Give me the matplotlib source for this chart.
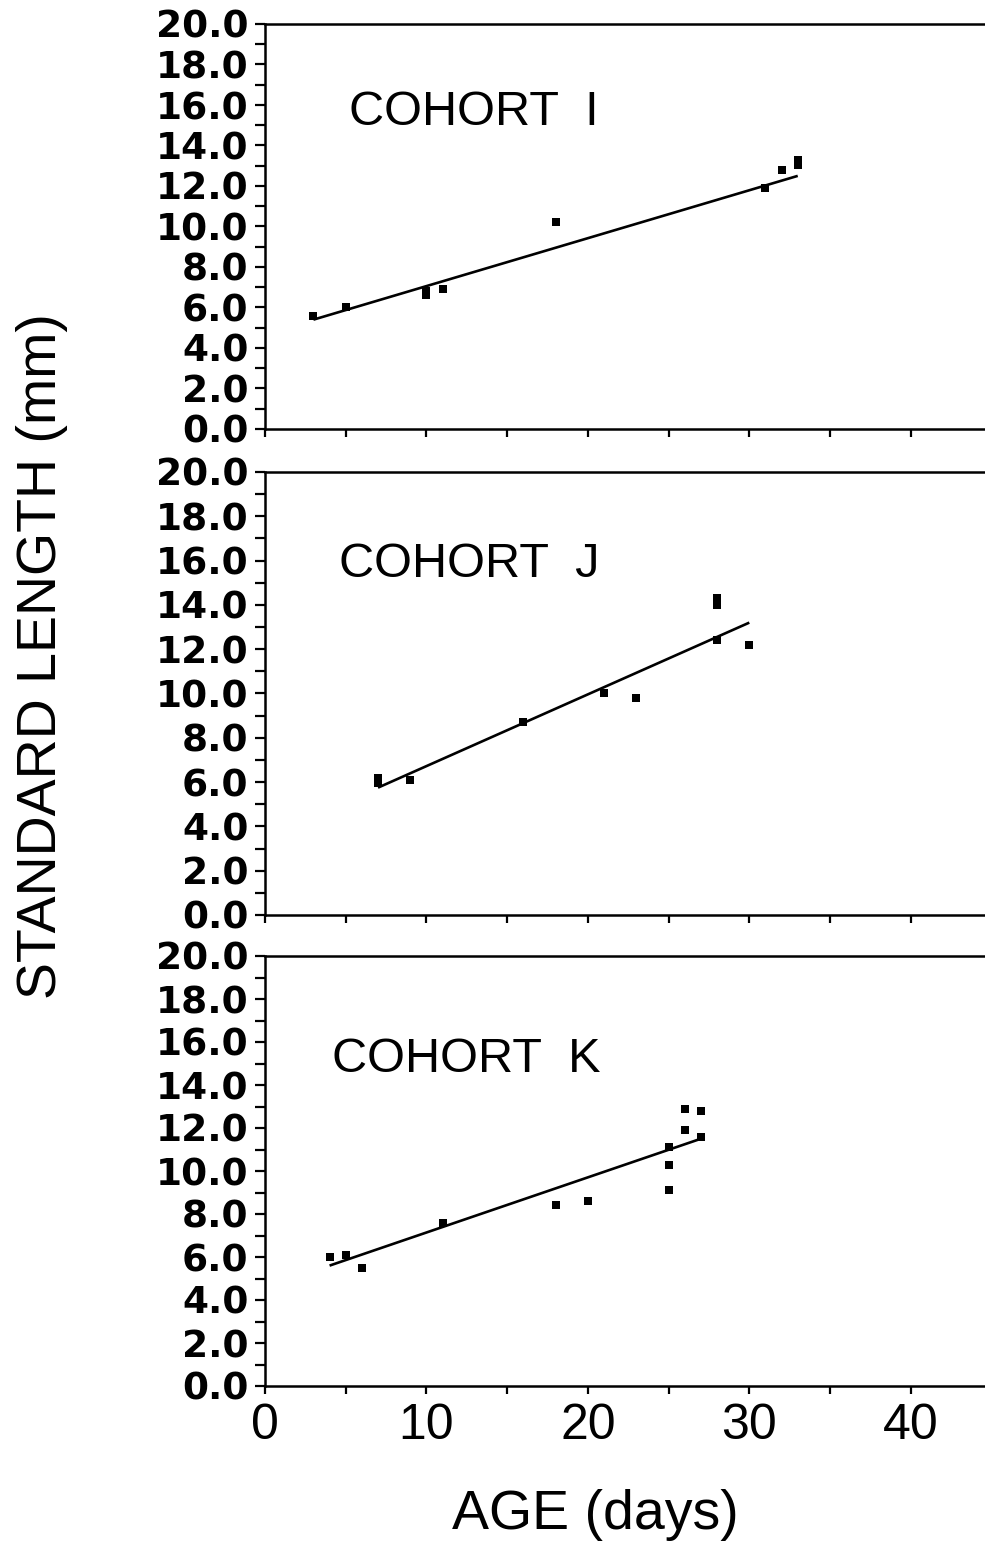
import matplotlib.pyplot as plt
from matplotlib.ticker import MultipleLocator

# growth of three cohorts, standard length vs age
cohort_names = ["COHORT  I", "COHORT  J", "COHORT  K"]

age_i = [3, 5, 10, 10, 11, 18, 31, 32, 33, 33]
len_i = [5.6, 6.0, 6.6, 6.8, 6.9, 10.2, 11.9, 12.8, 13.05, 13.3]
fit_age_i = [3, 33]
fit_len_i = [5.4, 12.5]

age_j = [7, 7, 9, 16, 21, 23, 28, 28, 28, 30]
len_j = [5.95, 6.2, 6.1, 8.7, 10.0, 9.8, 14.0, 14.3, 12.4, 12.2]
fit_age_j = [7, 30]
fit_len_j = [5.75, 13.2]

age_k = [4, 5, 6, 11, 18, 20, 25, 25, 25, 26, 26, 27, 27]
len_k = [6.0, 6.1, 5.5, 7.6, 8.4, 8.6, 9.1, 10.3, 11.1, 12.9, 11.9, 12.8, 11.6]
fit_age_k = [4, 27]
fit_len_k = [5.6, 11.5]

y_ticks = [0, 2, 4, 6, 8, 10, 12, 14, 16, 18, 20]
x_ticks = [0, 10, 20, 30, 40]

W, H = 985, 1545
fig = plt.figure(figsize=(W / 100, H / 100), dpi=100)

# panel boxes in pixels: (top, bottom), and where the label sits in data units
panels = [
    (24, 429, age_i, len_i, fit_age_i, fit_len_i, (5.2, 15.0)),
    (472, 915, age_j, len_j, fit_age_j, fit_len_j, (4.6, 15.25)),
    (956, 1386, age_k, len_k, fit_age_k, fit_len_k, (4.15, 14.6)),
]
left = 265

for n, (top, bottom, ages, lens, fa, fl, txt) in enumerate(panels):
    ax = fig.add_axes([left / W, 1 - bottom / H, (W - left) / W, (bottom - top) / H])
    ax.plot(fa, fl, color="black", lw=1.9, solid_capstyle="butt")
    ax.plot(ages, lens, "s", color="black", ms=6, mew=0)
    ax.set_xlim(0, 44.6)
    ax.set_ylim(0, 20)
    ax.spines["right"].set_visible(False)
    for s in ["left", "top", "bottom"]:
        ax.spines[s].set_linewidth(1.8)

    ax.set_yticks(y_ticks)
    ax.set_yticklabels([f"{v:.1f}" for v in y_ticks], family="DejaVu Sans",
                       fontweight="bold", fontsize=27)
    ax.yaxis.set_minor_locator(MultipleLocator(1))
    ax.set_xticks(x_ticks)
    ax.xaxis.set_minor_locator(MultipleLocator(5))
    ax.tick_params(axis="y", which="both", direction="out", length=7, width=1.6, pad=5)
    ax.tick_params(axis="x", which="both", direction="out", length=6, width=1.6, pad=6)
    if n < 2:
        ax.set_xticklabels([])
    else:
        ax.set_xticklabels([str(v) for v in x_ticks], family="Liberation Sans", fontsize=36)

    ax.text(txt[0], txt[1], cohort_names[n], family="Liberation Sans", fontsize=35,
            ha="left", va="baseline")

fig.text(42 / W, 1 - 656 / H, "STANDARD LENGTH (mm)", rotation=90, ha="center",
         va="center", family="Liberation Sans", fontsize=40)
fig.text(595 / W, 1 - 1515 / H, "AGE (days)", ha="center", va="center",
         family="Liberation Sans", fontsize=40)

fig.savefig("out.png", dpi=100)
